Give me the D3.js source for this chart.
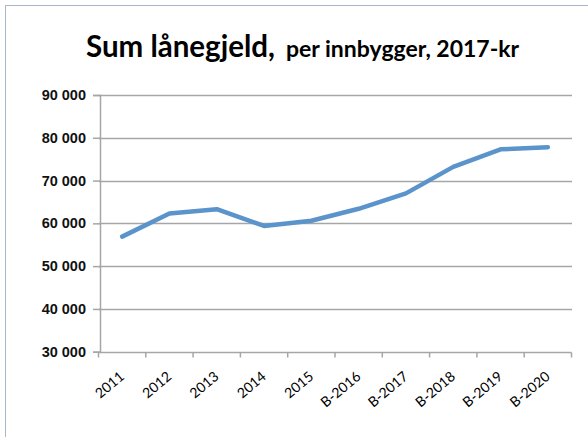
<!DOCTYPE html>
<html>
<head>
<meta charset="utf-8">
<script src="https://cdn.jsdelivr.net/npm/d3@7"></script>
<style>
  body { margin: 0; background: #fff; }
  svg { display: block; }
</style>
</head>
<body>
<script>
    var years = ["2011", "2012", "2013", "2014", "2015", "B-2016", "B-2017", "B-2018", "B-2019", "B-2020"];
    var gjeld = [56900, 62300, 63300, 59400, 60600, 63400, 67000, 73200, 77300, 77800];
    var yTicks = [30000, 40000, 50000, 60000, 70000, 80000, 90000];

    var width = 588,
        height = 437;

    var svg = d3.select("body").append("svg")
        .attr("width", width)
        .attr("height", height);

    // outer chart frame
    svg.append("rect")
        .attr("x", 5.5).attr("y", 5.5)
        .attr("width", 600).attr("height", 460)
        .attr("fill", "none")
        .attr("stroke", "#a9b7cb")
        .attr("stroke-width", 1);

    // title
    var title = svg.append("text")
        .attr("x", 86).attr("y", 57)
        .style("font-family", "Lato, 'Open Sans', sans-serif")
        .style("font-weight", "bold")
        .attr("fill", "#000");
    title.append("tspan").style("font-size", "29.5px").text("Sum lånegjeld,");
    title.append("tspan").attr("x", 286).style("font-size", "23px").text("per innbygger, 2017-kr");

    var x = d3.scaleBand()
        .domain(years)
        .range([98.5, 571.5]);

    var y = d3.scaleLinear()
        .domain([30000, 90000])
        .range([351.7, 95]);

    var fmt = function(d) { return d3.format(",")(d).replace(",", " "); };

    // grid lines
    svg.append("g").selectAll("line")
        .data(yTicks.slice(1))
        .enter().append("line")
        .attr("x1", 99).attr("x2", 572)
        .attr("y1", function(d) { return Math.round(y(d)) + 0.5; })
        .attr("y2", function(d) { return Math.round(y(d)) + 0.5; })
        .attr("stroke", "#a6a6a6")
        .attr("stroke-width", 1.5);

    // y axis
    var yAxis = d3.axisLeft(y)
        .tickValues(yTicks)
        .tickSize(7)
        .tickPadding(7)
        .tickFormat(fmt);

    var gy = svg.append("g")
        .attr("transform", "translate(100,0)")
        .call(yAxis);
    gy.select(".domain").attr("stroke", "#a6a6a6").attr("stroke-width", 1.5);
    gy.selectAll(".tick line").attr("stroke", "#a6a6a6").attr("stroke-width", 1.5);
    gy.selectAll(".tick text")
        .style("font-family", "'Liberation Sans', Arial, sans-serif")
        .style("font-size", "14.5px")
        .style("font-weight", "bold")
        .attr("fill", "#111");

    // x axis (ticks at category edges)
    var gx = svg.append("g")
        .attr("transform", "translate(0," + (Math.round(y(30000)) + 0.5) + ")");
    gx.append("line")
        .attr("x1", x.range()[0]).attr("x2", x.range()[1])
        .attr("stroke", "#a6a6a6").attr("stroke-width", 1.5);
    gx.selectAll(".edge")
        .data(years.concat(["end"]))
        .enter().append("line")
        .attr("class", "edge")
        .attr("x1", function(d, i) { return x.range()[0] + i * x.bandwidth(); })
        .attr("x2", function(d, i) { return x.range()[0] + i * x.bandwidth(); })
        .attr("y1", 0).attr("y2", 5)
        .attr("stroke", "#a6a6a6").attr("stroke-width", 1.5);
    gx.selectAll(".lbl")
        .data(years)
        .enter().append("text")
        .attr("class", "lbl")
        .attr("text-anchor", "end")
        .attr("transform", function(d) {
            return "translate(" + (x(d) + x.bandwidth() / 2 + 3) + ",25.5) rotate(-40)";
        })
        .style("font-family", "Lato, 'Open Sans', sans-serif")
        .style("font-size", "14px")
        .attr("fill", "#000")
        .text(function(d) { return d; });

    // line
    var line = d3.line()
        .x(function(d, i) { return x(years[i]) + x.bandwidth() / 2; })
        .y(function(d) { return y(d); });

    svg.append("path")
        .datum(gjeld)
        .attr("d", line)
        .attr("fill", "none")
        .attr("stroke", "#5b93cb")
        .attr("stroke-width", 4.5)
        .attr("stroke-linecap", "round")
        .attr("stroke-linejoin", "round");
</script>
</body>
</html>
